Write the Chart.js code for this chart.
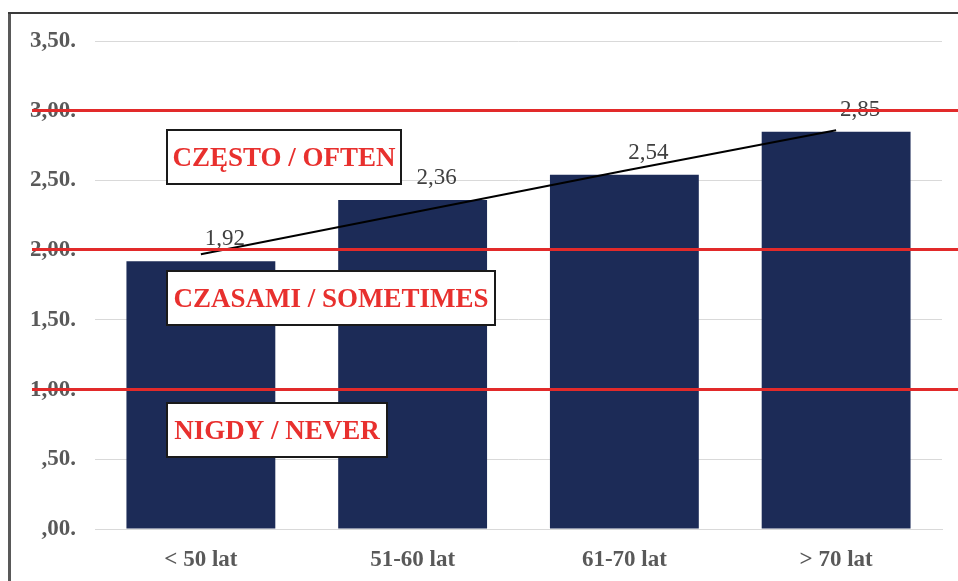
<!DOCTYPE html>
<html>
<head>
<meta charset="utf-8">
<script src="https://cdn.jsdelivr.net/npm/chart.js@4"></script>
<style>
    html, body { margin: 0; padding: 0; background: #fff; }
    #wrap { width: 958px; height: 581px; position: relative; }
</style>
</head>
<body>
<div id="wrap"><canvas id="ageChart"></canvas></div>
<script>
// data
const ageGroups = ['< 50 lat', '51-60 lat', '61-70 lat', '> 70 lat'];
const meanScores = [1.92, 2.36, 2.54, 2.85];
const trendValues = [1.97, 2.27, 2.57, 2.86];
const yTicks = [0, 0.5, 1, 1.5, 2, 2.5, 3, 3.5];
const thresholds = [1, 2, 3];
const zoneLabels = ['CZĘSTO / OFTEN', 'CZASAMI / SOMETIMES', 'NIGDY / NEVER'];

const SERIF = '"Liberation Serif", "Times New Roman", serif';

function fmtTick(v) {
    let s = v.toFixed(2).replace('.', ',');
    if (s.startsWith('0')) s = s.slice(1);
    return s + '.';
}

// red zone lines, label boxes, value labels and frame
const overlayPlugin = {
    id: 'overlay',
    afterDatasetsDraw(chart) {
        const { ctx, scales: { x, y } } = chart;
        ctx.save();

        // value labels
        ctx.font = '23px ' + SERIF;
        ctx.fillStyle = '#404040';
        ctx.textAlign = 'center';
        ctx.textBaseline = 'middle';
        meanScores.forEach((v, i) => {
            ctx.fillText(v.toFixed(2).replace('.', ','), x.getPixelForValue(i) + 24, y.getPixelForValue(v) - 22);
        });

        // threshold lines
        ctx.strokeStyle = '#e22a2a';
        ctx.lineWidth = 3;
        thresholds.forEach(t => {
            const py = Math.round(y.getPixelForValue(t)) - 0.5;
            ctx.beginPath();
            ctx.moveTo(32, py);
            ctx.lineTo(chart.width, py);
            ctx.stroke();
        });

        // zone boxes
        const boxes = [
            { top: 130, w: 234 },
            { top: 271, w: 328 },
            { top: 403, w: 220 }
        ];
        ctx.font = 'bold 27px ' + SERIF;
        boxes.forEach((b, i) => {
            const left = 167, h = 54;
            ctx.fillStyle = '#fff';
            ctx.fillRect(left, b.top, b.w, h);
            ctx.strokeStyle = '#1a1a1a';
            ctx.lineWidth = 2;
            ctx.strokeRect(left, b.top, b.w, h);
            ctx.fillStyle = '#e8302e';
            ctx.fillText(zoneLabels[i], left + b.w / 2, b.top + h / 2 + 2);
        });

        // outer frame (left + top)
        ctx.strokeStyle = '#595959';
        ctx.lineWidth = 3;
        ctx.beginPath();
        ctx.moveTo(9.5, chart.height);
        ctx.lineTo(9.5, 13);
        ctx.stroke();
        ctx.strokeStyle = '#3a3a3a';
        ctx.lineWidth = 2;
        ctx.beginPath();
        ctx.moveTo(8, 13);
        ctx.lineTo(chart.width, 13);
        ctx.stroke();

        ctx.restore();
    }
};

new Chart(document.getElementById('ageChart'), {
    data: {
        labels: ageGroups,
        datasets: [
            {
                type: 'line',
                label: 'Trend',
                data: trendValues,
                borderColor: '#000',
                borderWidth: 2,
                pointRadius: 0,
                fill: false,
                order: 0
            },
            {
                type: 'bar',
                label: 'Średnia',
                data: meanScores,
                backgroundColor: '#1c2b57',
                categoryPercentage: 1,
                barPercentage: 0.703,
                order: 1
            }
        ]
    },
    options: {
        responsive: true,
        maintainAspectRatio: false,
        animation: false,
        layout: { padding: { top: 41, right: 16, left: 0, bottom: 0 } },
        plugins: {
            legend: { display: false },
            tooltip: { enabled: false }
        },
        scales: {
            x: {
                grid: { display: false, drawTicks: false },
                border: { color: '#d9d9d9', width: 1 },
                ticks: { color: '#595959', padding: 17, font: { family: SERIF, size: 23, weight: 'bold' } },
                afterFit: s => { s.height = 52; }
            },
            y: {
                min: 0,
                max: 3.5,
                afterBuildTicks: s => { s.ticks = yTicks.map(v => ({ value: v })); },
                grid: { color: '#d9d9d9', drawTicks: false },
                border: { display: false },
                ticks: {
                    color: '#595959',
                    padding: 19,
                    font: { family: SERIF, size: 23, weight: 'bold' },
                    callback: v => fmtTick(v)
                },
                afterFit: s => { s.width = 95; }
            }
        }
    },
    plugins: [overlayPlugin]
});
</script>
</body>
</html>
